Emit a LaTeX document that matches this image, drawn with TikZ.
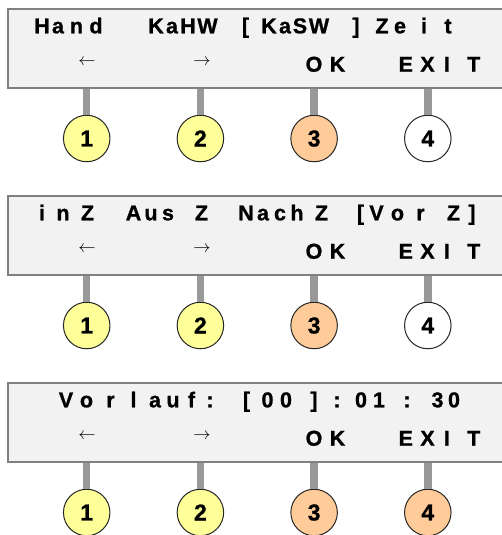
\documentclass[tikz,border=0pt]{standalone}
\usepackage{fontspec}
\setmainfont{Liberation Sans}[BoldFeatures={FakeBold=1}]
\usetikzlibrary{positioning}
\definecolor{lcdfill}{HTML}{F2F2F2}
\definecolor{lcdframe}{HTML}{808080}
\definecolor{stemgray}{HTML}{999999}
\definecolor{keyyellow}{HTML}{FFFF99}
\definecolor{keyorange}{HTML}{FFCC99}

\begin{document}
\begin{tikzpicture}[x=1pt, y=-1pt, every node/.style={inner sep=0pt, outer sep=0pt},
    lcdbox/.style={draw=lcdframe, line width=2pt, fill=lcdfill, anchor=north west, minimum width=512pt, minimum height=79.3pt},
    lcd/.style={anchor=base, font=\fontsize{21.5}{22}\selectfont\bfseries},
    arrowtxt/.style={font=\fontsize{17.5}{18}\selectfont},
    keycap/.style={circle, draw=black!85, line width=1pt, minimum size=46.5pt, font=\fontsize{23}{23}\selectfont\bfseries},
    stem/.style={stemgray, line width=7.5pt}]

            \clip (0,0) rectangle (502,535);
            \fill[white] (0,0) rectangle (502,535);

            \def\gap{187}

            \foreach \p/\last in {0/white, 1/white, 2/keyorange} {
                \pgfmathsetmacro{\off}{\p*\gap}
                \node[lcdbox] (box\p) at (8.3, 9+\off) {};

                \node[arrowtxt] (left\p) at (87, 62.8+\off) {$\leftarrow$};
                \node[arrowtxt] (right\p) at (202, 62.8+\off) {$\rightarrow$};
                \foreach \ch/\x [count=\k] in {O/314, K/337.5, E/405.8, X/427.5, I/446.8, T/473.7}
                    \node[lcd] (bot\p-\k) at (\x, 71.7+\off) {\ch};

                \foreach \i/\col in {1/keyyellow, 2/keyyellow, 3/keyorange, 4/\last} {
                    \node[keycap, fill=\col] (key\p-\i) at ({86.7+(\i-1)*113.7}, 138.5+\off) {\i};
                    \draw[stem, shorten <=0.5pt, shorten >=1pt] (key\p-\i.north) -- (key\p-\i.north |- box\p.south);
                }
            }

            % first display line of each panel
            \foreach \ch/\x [count=\k] in {H/42, a/58, n/76.5, d/96, K/156, a/172, H/188, W/207.5, {[}/245.5, K/269, a/285, S/300, W/319, {]}/356, Z/382, e/400, i/424, t/448}
                \node[lcd] (top0-\k) at (\x, 33.3) {\ch};
            \foreach \ch/\x [count=\k] in {i/42, n/63, Z/87.5, A/133.5, u/151, s/168, Z/201.5, N/246, a/263, c/280, h/297, Z/321.5, {[}/360.5, V/376.5, o/397.5, r/420.5, Z/453.5, {]}/472}
                \node[lcd] (top1-\k) at (\x, 220.3) {\ch};
            \foreach \ch/\x [count=\k] in {V/66, o/86.5, r/110.5, l/133.5, a/155, u/173, f/191.5, :/210, {[}/246.5, 0/267.5, 0/286, {]}/314, :/337, 0/361, 1/379, :/407, 3/437.5, 0/454}
                \node[lcd] (top2-\k) at (\x, 407.3) {\ch};
        \end{tikzpicture}
\end{document}
